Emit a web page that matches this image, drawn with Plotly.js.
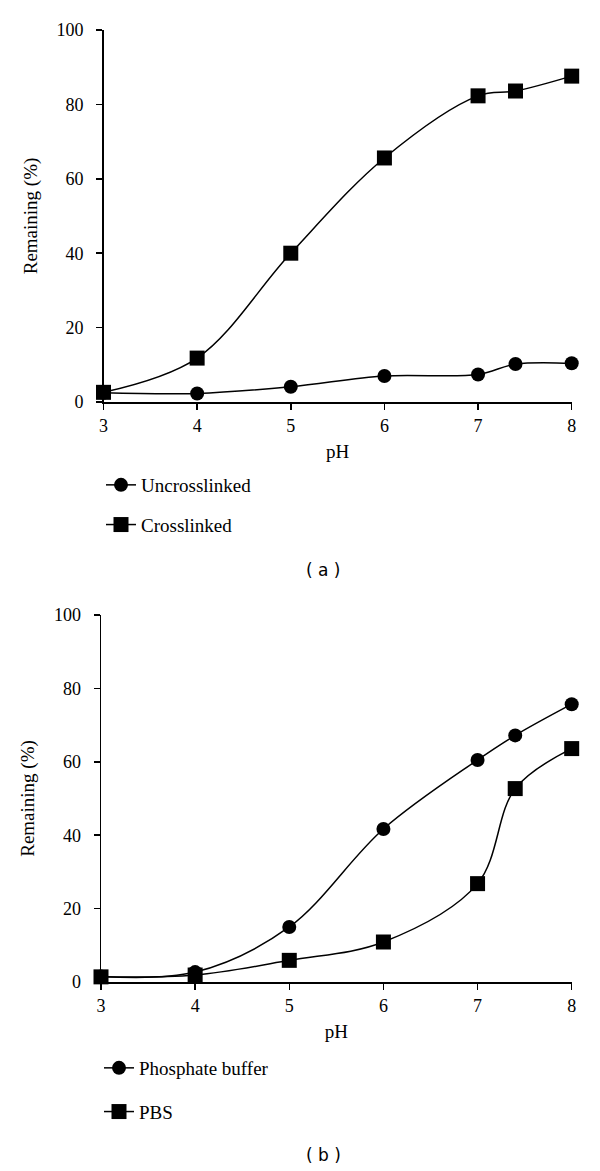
<!DOCTYPE html>
<html>
<head>
<meta charset="utf-8">
<script src="https://cdn.plot.ly/plotly-3.0.1.min.js"></script>
<style>html,body{margin:0;padding:0;background:#fff;}#chart{width:600px;height:1171px;}</style>
</head>
<body>
<div id="chart"></div>
<script>
// Panel (a)
const phA = [3, 4, 5, 6, 7, 7.4, 8];
const uncrosslinked = [2.5, 2.3, 4.1, 7.0, 7.4, 10.2, 10.4];
const crosslinked = [2.6, 11.8, 40.0, 65.6, 82.3, 83.6, 87.6];
// Panel (b)
const phB = [3, 4, 5, 6, 7, 7.4, 8];
const phosphateBuffer = [1.5, 2.7, 15.0, 41.7, 60.5, 67.2, 75.7];
const pbs = [1.4, 1.9, 5.9, 10.9, 26.8, 52.7, 63.6];
const xTicks = [3, 4, 5, 6, 7, 8];
const yTicks = [0, 20, 40, 60, 80, 100];
const seriesNames = ["Uncrosslinked", "Crosslinked", "Phosphate buffer", "PBS"];
const panelLabels = ["( a )", "( b )"];

const serif = '"Liberation Serif", "Times New Roman", serif';
const lineStyle = {color: "#000", width: 1.5, shape: "spline", smoothing: 1};

function tr(x, y, name, sym, size, xa, ya, leg, grp) {
  return {
    x: x, y: y, name: name, type: "scatter", mode: "lines+markers",
    xaxis: xa, yaxis: ya, legend: leg, legendgroup: grp,
    line: lineStyle, cliponaxis: false,
    marker: {symbol: sym, size: size, color: "#000", line: {width: 0}}
  };
}

const data = [
  tr(phA, uncrosslinked, seriesNames[0], "circle", 14, "x", "y", "legend", "a1"),
  tr(phA, crosslinked, seriesNames[1], "square", 15, "x", "y", "legend", "a2"),
  tr(phB, phosphateBuffer, seriesNames[2], "circle", 14, "x2", "y2", "legend2", "b1"),
  tr(phB, pbs, seriesNames[3], "square", 15, "x2", "y2", "legend2", "b2")
];

function xAx(domain, anchor) {
  return {
    domain: domain, anchor: anchor, range: [3, 8], tickvals: xTicks,
    showgrid: false, zeroline: false, showline: true, linecolor: "#000", linewidth: 1.5,
    ticks: "outside", ticklen: 6, tickwidth: 1.5, tickcolor: "#000",
    tickfont: {family: serif, size: 18, color: "#000"}, ticklabelstandoff: 1,
    title: {text: "pH", font: {family: serif, size: 19, color: "#000"}, standoff: 9}
  };
}
function yAx(domain, anchor) {
  return {
    domain: domain, anchor: anchor, range: [0, 100], tickvals: yTicks,
    showgrid: false, zeroline: false, showline: true, linecolor: "#000", linewidth: 1.5,
    ticks: "outside", ticklen: 6, tickwidth: 1.5, tickcolor: "#000",
    tickfont: {family: serif, size: 18, color: "#000"}, ticklabelstandoff: 9,
    title: {text: "Remaining (%)", font: {family: serif, size: 19, color: "#000"}, standoff: 14}
  };
}

const H = 1171;
const layout = {
  width: 600, height: 1171,
  margin: {l: 0, r: 0, t: 0, b: 0},
  paper_bgcolor: "#fff", plot_bgcolor: "#fff",
  showlegend: true,
  xaxis: xAx([103.5/600, 571.7/600], "y"),
  yaxis: yAx([(H-402)/H, (H-30)/H], "x"),
  xaxis2: xAx([101/600, 571.7/600], "y2"),
  yaxis2: yAx([(H-982)/H, (H-615)/H], "x2"),
  legend: {x: 101/600, y: (H-466)/H, xanchor: "left", yanchor: "top",
           font: {family: serif, size: 19, color: "#000"}, bgcolor: "rgba(0,0,0,0)",
           traceorder: "grouped", tracegroupgap: 12},
  legend2: {x: 99/600, y: (H-1049)/H, xanchor: "left", yanchor: "top",
           font: {family: serif, size: 19, color: "#000"}, bgcolor: "rgba(0,0,0,0)",
           traceorder: "grouped", tracegroupgap: 16},
  annotations: [
    {text: panelLabels[0], xref: "paper", yref: "paper", x: 323/600, y: (H-570)/H,
     xanchor: "center", yanchor: "middle", showarrow: false,
     font: {family: '"DejaVu Sans", Arial, sans-serif', size: 17, color: "#000"}},
    {text: panelLabels[1], xref: "paper", yref: "paper", x: 323/600, y: (H-1155)/H,
     xanchor: "center", yanchor: "middle", showarrow: false,
     font: {family: '"DejaVu Sans", Arial, sans-serif', size: 17, color: "#000"}}
  ]
};

Plotly.newPlot("chart", data, layout, {displayModeBar: false, staticPlot: true});
</script>
</body>
</html>
